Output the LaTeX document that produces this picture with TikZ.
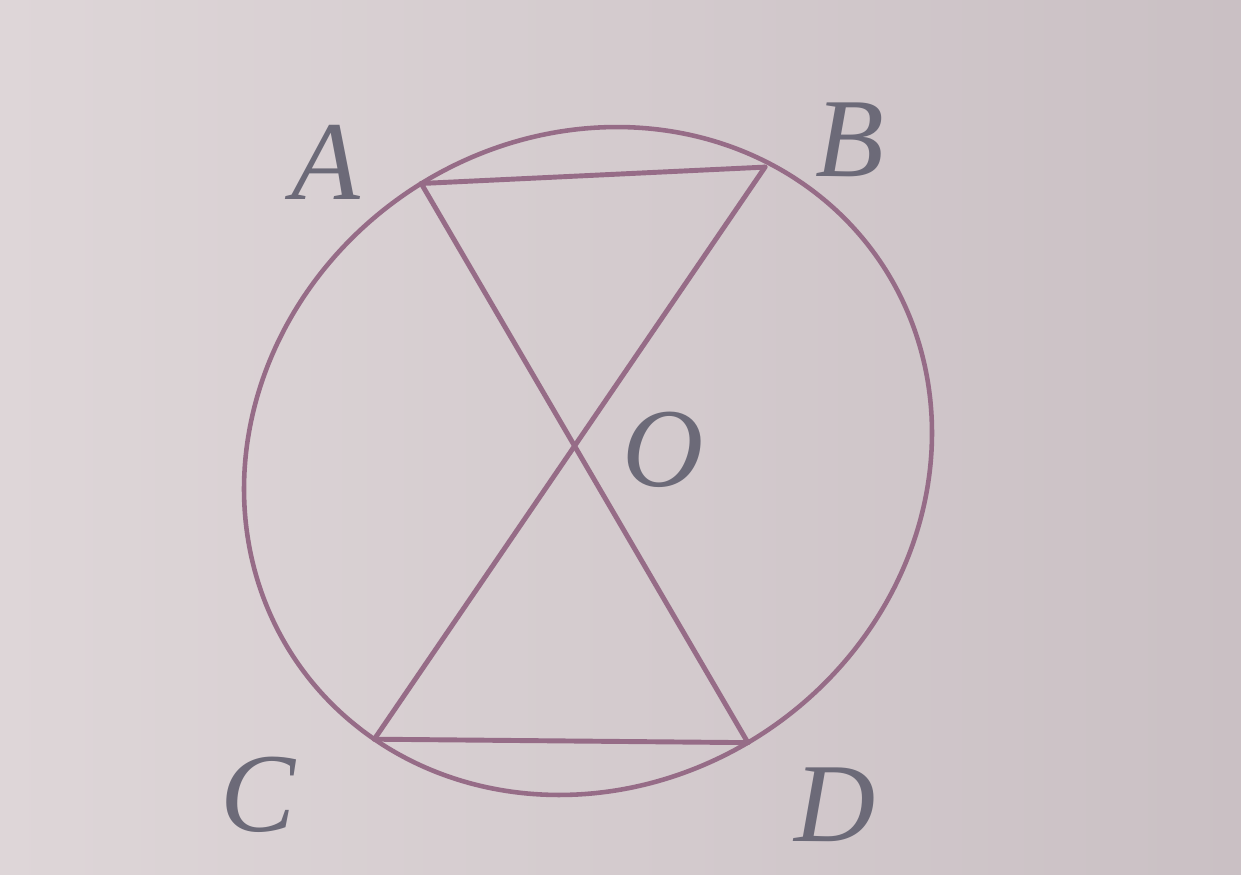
\documentclass[tikz,border=0pt]{standalone}
\usepackage{fontspec}
\setmainfont{Liberation Serif}
\definecolor{bgl}{RGB}{222,214,216}
\definecolor{bgd}{RGB}{202,192,196}
\definecolor{ink}{RGB}{150,108,135}
\definecolor{txt}{RGB}{108,106,120}
\begin{document}
\begin{tikzpicture}[x=0.02cm,y=-0.02cm,
  chord/.style={draw=ink,line width=2.8pt,line cap=round},
  lab/.style={text=txt,font=\fontsize{64}{70}\selectfont\itshape,inner sep=0pt}]
\shade[left color=bgl,right color=bgd] (0,0) rectangle (1241,875);
\useasboundingbox (0,0) rectangle (1241,875);
\draw[ink,line width=2.6pt] plot[domain=0:360,samples=240,smooth]
  ({588+344*cos(\x)},{461-28*cos(\x)+332.8*sin(\x)}) -- cycle;
\coordinate (A) at ({588+344*cos(-119)},{461-28*cos(-119)+332.8*sin(-119)});
\coordinate (B) at ({588+0.985*344*cos(-58.5)},{461+0.985*(-28*cos(-58.5)+332.8*sin(-58.5))});
\coordinate (C) at ({588+344*cos(128.4)},{461-28*cos(128.4)+332.8*sin(128.4)});
\coordinate (D) at ({588+344*cos(62.3)},{461-28*cos(62.3)+332.8*sin(62.3)});
\draw[chord] (A) -- (B);
\draw[chord] (C) -- (D);
\draw[chord] (A) -- (D);
\draw[chord] (B) -- (C);
\node[lab] (lA) at (326,162) {A};
\node[lab] (lB) at (850,140) {B};
\node[lab] (lC) at (258,795) {C};
\node[lab] (lD) at (835,805) {D};
\node[lab] (lO) at (663,450) {O};
\end{tikzpicture}
\end{document}
